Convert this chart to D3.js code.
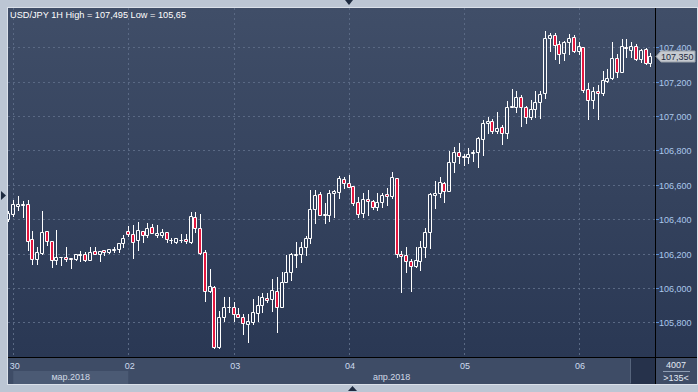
<!DOCTYPE html>
<html><head><meta charset="utf-8">
<script src="https://cdn.jsdelivr.net/npm/d3@7"></script>
<style>body{margin:0;background:#bdc7d5;overflow:hidden}svg{display:block;font-family:"Liberation Sans",Arial,sans-serif}</style>
</head><body><svg id="c" width="698" height="392"></svg>
<script>
// ---- DATA (USD/JPY 1H, bar index -1 .. 133) ----
const opens = [106.402,106.429,106.480,106.484,106.487,106.284,106.167,106.206,106.332,106.274,106.162,106.178,106.183,106.175,106.171,106.195,106.198,106.163,106.216,106.198,106.220,106.210,106.223,106.225,106.260,106.332,106.313,106.280,106.332,106.309,106.357,106.307,106.307,106.324,106.282,106.270,106.280,106.284,106.270,106.411,106.348,106.208,105.985,106.005,105.659,105.834,105.888,105.891,105.847,105.830,105.790,105.805,105.854,105.900,105.940,105.937,105.983,105.888,106.034,106.093,106.194,106.196,106.240,106.289,106.458,106.545,106.425,106.425,106.551,106.560,106.632,106.609,106.594,106.499,106.435,106.516,106.506,106.470,106.499,106.547,106.535,106.638,106.198,106.192,106.159,106.130,106.159,106.237,106.324,106.541,106.551,106.609,106.566,106.731,106.789,106.770,106.760,106.788,106.790,106.865,106.958,106.973,106.915,106.938,106.900,107.051,107.051,107.113,107.051,106.993,107.040,107.084,107.133,107.456,107.471,107.417,107.365,107.429,107.458,107.378,107.403,107.156,107.094,107.146,107.133,107.204,107.220,107.336,107.258,107.403,107.384,107.408,107.330,107.388,107.307];
const highs = [106.448,106.512,106.535,106.508,106.512,106.332,106.240,106.448,106.332,106.274,106.338,106.183,106.237,106.175,106.196,106.216,106.212,106.240,106.237,106.216,106.220,106.225,106.237,106.262,106.309,106.361,106.367,106.386,106.332,106.380,106.371,106.367,106.343,106.324,106.293,106.289,106.313,106.313,106.442,106.440,106.431,106.222,106.111,106.012,105.867,105.946,105.946,105.917,105.885,105.849,105.849,105.937,105.952,105.969,105.969,106.055,106.064,106.093,106.192,106.202,106.266,106.266,106.303,106.570,106.570,106.560,106.493,106.570,106.570,106.653,106.647,106.658,106.594,106.531,106.551,106.570,106.512,106.551,106.551,106.580,106.673,106.638,106.216,106.240,106.167,106.240,106.276,106.348,106.554,106.624,106.644,106.618,106.797,106.822,106.845,106.780,106.813,106.803,106.877,106.977,106.993,106.981,107.022,106.948,107.088,107.158,107.146,107.123,107.059,107.094,107.146,107.146,107.495,107.481,107.485,107.438,107.438,107.476,107.471,107.433,107.403,107.194,107.171,107.181,107.262,107.272,107.433,107.359,107.447,107.447,107.433,107.419,107.390,107.394,107.365];
const lows = [106.390,106.419,106.454,106.413,106.222,106.140,106.138,106.198,106.251,106.124,106.138,106.134,106.155,106.118,106.163,106.157,106.159,106.163,106.198,106.159,106.191,106.202,106.211,106.210,106.240,106.303,106.177,106.222,106.270,106.299,106.318,106.295,106.299,106.270,106.264,106.260,106.266,106.260,106.260,106.328,106.196,105.927,105.979,105.653,105.650,105.811,105.859,105.811,105.830,105.733,105.688,105.790,105.811,105.859,105.917,105.868,105.746,105.888,106.034,106.047,106.124,106.153,106.192,106.260,106.377,106.425,106.377,106.392,106.415,106.522,106.580,106.589,106.481,106.415,106.415,106.425,106.458,106.454,106.470,106.483,106.526,106.183,105.979,106.095,105.985,106.121,106.105,106.179,106.231,106.464,106.531,106.502,106.566,106.673,106.725,106.716,106.729,106.741,106.706,106.774,106.900,106.900,106.903,106.836,106.871,107.051,107.026,106.942,106.962,106.981,106.996,106.987,107.107,107.380,107.330,107.307,107.326,107.359,107.371,107.359,107.142,106.983,107.045,106.981,107.123,107.197,107.214,107.229,107.258,107.345,107.342,107.326,107.316,107.303,107.291];
const closes = [106.436,106.487,106.489,106.489,106.276,106.167,106.210,106.324,106.274,106.163,106.179,106.183,106.171,106.169,106.196,106.201,106.163,106.210,106.198,106.216,106.210,106.225,106.227,106.260,106.289,106.313,106.270,106.338,106.309,106.348,106.322,106.322,106.324,106.284,106.280,106.289,106.282,106.274,106.419,106.348,106.202,105.985,106.010,105.659,105.834,105.888,105.893,105.847,105.830,105.795,105.807,105.859,105.900,105.946,105.931,105.989,105.888,106.034,106.093,106.196,106.198,106.240,106.289,106.458,106.541,106.425,106.431,106.551,106.566,106.638,106.609,106.589,106.493,106.429,106.516,106.505,106.470,106.500,106.543,106.535,106.644,106.198,106.187,106.159,106.128,106.163,106.237,106.324,106.545,106.554,106.615,106.566,106.731,106.793,106.770,106.760,106.780,106.794,106.871,106.958,106.973,106.915,106.933,106.900,107.055,107.056,107.113,107.051,106.993,107.040,107.080,107.128,107.456,107.471,107.413,107.361,107.429,107.456,107.378,107.408,107.152,107.094,107.146,107.133,107.210,107.220,107.336,107.258,107.408,107.394,107.408,107.330,107.384,107.307,107.350];
const firstBar = -1;                       // index of the first (partly hidden) bar
const dayTickBars = [0, 24, 46, 70, 94, 118];
const dayLabels = ["30", "02", "03", "04", "05", "06"];
const monthBars = [[0, 24], [24, 133.95]];
const monthLabels = ["мар.2018", "апр.2018"];
const priceTicks = [105.8, 106.0, 106.2, 106.4, 106.6, 106.8, 107.0, 107.2, 107.4];
const title = "USD/JPY 1H High = 107,495 Low = 105,65";
const totalBars = "4007", visibleBars = ">135<";

// ---- LAYOUT ----
const W = 698, H = 392;
const L = 8, R = 655, T = 8, B = 357, PR = 697, PB = 384;
const svg = d3.select("#c");
const x = d3.scaleLinear().domain([-1.1, 133.95]).range([L, R]);
const y = d3.scaleLinear().domain([105.5994, 107.6285]).range([B, T]);
const fmt = v => v.toFixed(3).replace(".", ",");

const defs = svg.append("defs");
const gr = defs.append("linearGradient").attr("id", "bg").attr("x1", 0).attr("y1", 0).attr("x2", 0).attr("y2", 1);
gr.append("stop").attr("offset", "0%").attr("stop-color", "#404e68");
gr.append("stop").attr("offset", "100%").attr("stop-color", "#2a3854");
defs.append("clipPath").attr("id", "clip").append("rect")
  .attr("x", L).attr("y", T).attr("width", R - L).attr("height", B - T);

svg.append("rect").attr("width", W).attr("height", H).attr("fill", "#bcc6d4");
svg.append("rect").attr("x", 7).attr("y", 7).attr("width", PR - 6).attr("height", PB - 6).attr("fill", "#dbe1ea");
svg.append("rect").attr("x", L).attr("y", T).attr("width", PR - L).attr("height", B - T).attr("fill", "url(#bg)");
svg.append("rect").attr("x", L).attr("y", B).attr("width", PR - L).attr("height", PB - B).attr("fill", "#3e4c66");

// month bands
svg.append("rect").attr("x", x(monthBars[0][0])).attr("y", 371)
  .attr("width", x(monthBars[0][1]) - x(monthBars[0][0])).attr("height", PB - 371).attr("fill", "#4b5a74");

// grid
const grid = svg.append("g").attr("stroke", "#5a6984").attr("stroke-dasharray", "2,3").attr("stroke-width", 1);
priceTicks.forEach(p => {
  const yy = Math.round(y(p)) + 0.5;
  grid.append("line").attr("x1", L).attr("x2", R).attr("y1", yy).attr("y2", yy);
});
dayTickBars.forEach(b => {
  const xx = Math.round(x(b)) + 0.5;
  grid.append("line").attr("x1", xx).attr("x2", xx).attr("y1", T).attr("y2", B);
});

// candles
const bars = opens.map((o, k) => ({ i: firstBar + k, o, h: highs[k], l: lows[k], c: closes[k] }));
const cg = svg.append("g").attr("clip-path", "url(#clip)");
bars.forEach(d => {
  const cx = Math.round(x(d.i));
  const top = Math.round(y(Math.max(d.o, d.c))) + 0.5;
  const bot = Math.round(y(Math.min(d.o, d.c))) + 0.5;
  const yh = Math.round(y(d.h)), yl = Math.round(y(d.l)) + 1;
  const wx = cx + 0.5;
  cg.append("path").attr("d", `M${wx},${yh}V${top}M${wx},${bot}V${yl}`)
    .attr("stroke", "#ffffff").attr("stroke-width", 1).attr("fill", "none");
  const up = d.c >= d.o;
  cg.append("path").attr("d", `M${cx - 1.5},${top}H${cx + 1.5}V${bot}H${cx - 1.5}Z`)
    .attr("fill", up ? "none" : "#e3173f").attr("stroke", "#ffffff").attr("stroke-width", 1);
});

// separators
svg.append("line").attr("x1", R + 0.5).attr("x2", R + 0.5).attr("y1", T).attr("y2", PB).attr("stroke", "#000");
svg.append("line").attr("x1", L).attr("x2", PR).attr("y1", B + 0.5).attr("y2", B + 0.5).attr("stroke", "#000");

// price axis
const ax = svg.append("g").attr("font-size", "9px");
priceTicks.forEach(p => {
  const yy = Math.round(y(p)) + 0.5;
  ax.append("line").attr("x1", R + 1).attr("x2", R + 4).attr("y1", yy).attr("y2", yy).attr("stroke", "#5b8fd6");
  ax.append("text").attr("x", 659).attr("y", yy + 3.5).attr("fill", "#abc8ec").text(fmt(p));
});
// last price marker
const lastC = closes[closes.length - 1];
const ly = Math.round(y(lastC)) + 0.5;
svg.append("path").attr("d", `M656,${ly}L661,${ly - 5.5}H695V${ly + 5.5}H661Z`)
  .attr("fill", "#c6cad0").attr("stroke", "#9aa1aa");
svg.append("text").attr("x", 661).attr("y", ly + 3.5).attr("font-size", "9px").attr("fill", "#1c2a3e").text(fmt(lastC));

// time axis
dayTickBars.forEach((b, k) => {
  svg.append("text").attr("x", x(b) + 1.5).attr("y", 369).attr("text-anchor", "middle")
    .attr("font-size", "9px").attr("fill", "#cddbee").text(dayLabels[k]);
});
monthBars.forEach((m, k) => {
  svg.append("text").attr("x", (x(m[0]) + x(m[1])) / 2).attr("y", 380).attr("text-anchor", "middle")
    .attr("font-size", "9px").attr("fill", "#d2dae6").text(monthLabels[k]);
});

// bottom-right info
svg.append("rect").attr("x", 631).attr("y", 358).attr("width", 24).attr("height", PB - 358).attr("fill", "#26324b");
svg.append("line").attr("x1", 630.5).attr("x2", 630.5).attr("y1", 359).attr("y2", PB - 1).attr("stroke", "#56647c");
svg.append("text").attr("x", 676).attr("y", 368).attr("text-anchor", "middle").attr("font-size", "9px").attr("fill", "#e2e9f3").text(totalBars);
svg.append("line").attr("x1", 663).attr("x2", 690).attr("y1", 371.5).attr("y2", 371.5).attr("stroke", "#8e9db3");
svg.append("text").attr("x", 676).attr("y", 381).attr("text-anchor", "middle").attr("font-size", "9px").attr("fill", "#e2e9f3").text(visibleBars);

// title
svg.append("text").attr("x", 10).attr("y", 18).attr("font-size", "9.2px").attr("fill", "#ffffff").text(title);

// scroll arrows
svg.append("path").attr("d", "M345,0H353L349,5Z").attr("fill", "#1e2b40");
svg.append("path").attr("d", "M348,391H357L352.5,386Z").attr("fill", "#1e2b40");
svg.append("path").attr("d", "M1,191V200L6,195.5Z").attr("fill", "#1e2b40");
</script></body></html>
